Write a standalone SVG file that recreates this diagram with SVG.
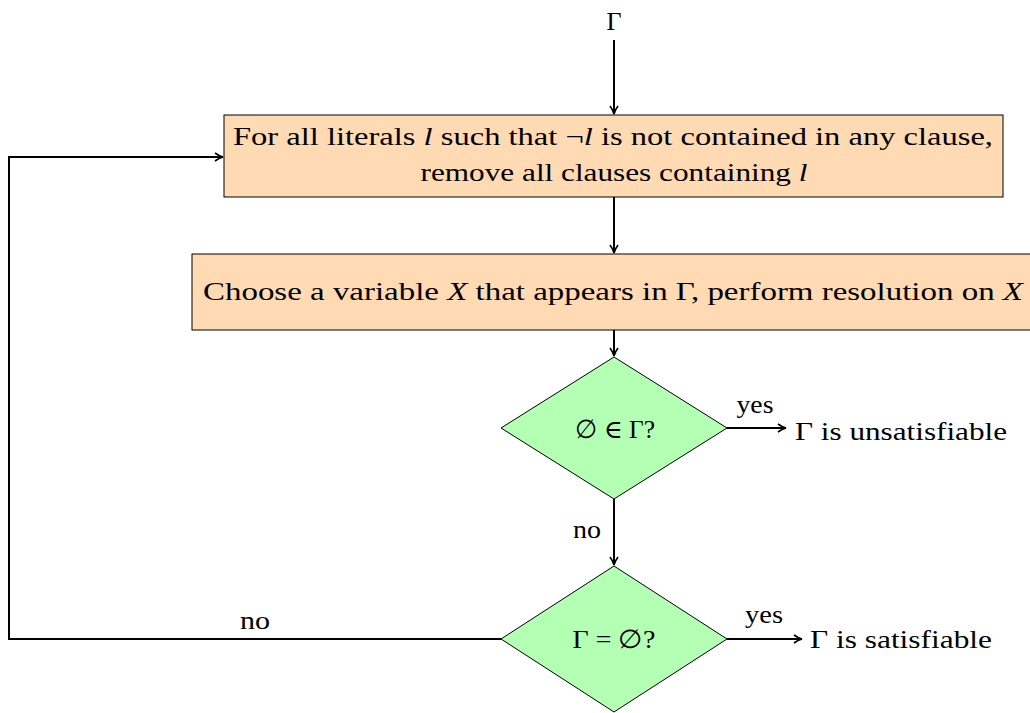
<svg xmlns="http://www.w3.org/2000/svg" width="1030" height="713" viewBox="0 0 1030 713">
<style>
text{font-family:"Liberation Serif","DejaVu Serif",serif;font-size:26px;fill:#000}
.c{text-anchor:middle}
.i{font-style:italic}
.box{fill:#FFDAB3;stroke:#000;stroke-width:1}
.dia{fill:#B3FFB3;stroke:#000;stroke-width:1}
.ln{fill:none;stroke:#000;stroke-width:2}
</style>
<defs>
<marker id="ah" markerWidth="10" markerHeight="10" refX="9" refY="5" orient="auto" markerUnits="userSpaceOnUse">
<path d="M1,1 Q5,4 9,5 Q5,6 1,9" fill="none" stroke="#000" stroke-width="1.6"/>
</marker>
</defs>
<rect width="1030" height="713" fill="#fff"/>
<g id="connectors">
<line class="ln" x1="614" y1="40" x2="614" y2="114" marker-end="url(#ah)"/>
<line class="ln" x1="614" y1="197" x2="614" y2="253" marker-end="url(#ah)"/>
<line class="ln" x1="614" y1="330" x2="614" y2="356" marker-end="url(#ah)"/>
<line class="ln" x1="727" y1="428" x2="786" y2="428" marker-end="url(#ah)"/>
<line class="ln" x1="614" y1="499" x2="614" y2="565" marker-end="url(#ah)"/>
<line class="ln" x1="727" y1="639" x2="802" y2="639" marker-end="url(#ah)"/>
<polyline class="ln" points="501,639 9,639 9,157 223,157" marker-end="url(#ah)"/>
<text x="755" y="413" class="c" textLength="37" lengthAdjust="spacingAndGlyphs">yes</text>
<text x="587" y="538" class="c" textLength="28" lengthAdjust="spacingAndGlyphs">no</text>
<text x="764" y="623" class="c" textLength="38" lengthAdjust="spacingAndGlyphs">yes</text>
<text x="255" y="629" class="c" textLength="30" lengthAdjust="spacingAndGlyphs">no</text>
</g>
<g id="start"><text x="614" y="30" class="c">Γ</text></g>
<g id="n1">
<rect class="box" x="224" y="115" width="779" height="82"/>
<text x="613" y="145" class="c" textLength="760" lengthAdjust="spacingAndGlyphs">For all literals <tspan class="i">l</tspan> such that ¬<tspan class="i">l</tspan> is not contained in any clause,</text>
<text x="614" y="181" class="c" textLength="387" lengthAdjust="spacingAndGlyphs">remove all clauses containing <tspan class="i">l</tspan></text>
</g>
<g id="n2">
<rect class="box" x="192" y="254" width="845" height="76"/>
<text x="613" y="300" class="c" textLength="820" lengthAdjust="spacingAndGlyphs">Choose a variable <tspan class="i">X</tspan> that appears in Γ, perform resolution on <tspan class="i">X</tspan></text>
</g>
<g id="d1">
<polygon class="dia" points="614,357 727,428 614,499 501,428"/>
<text x="615" y="438" class="c" textLength="80" lengthAdjust="spacingAndGlyphs">∅ ∈ Γ?</text>
</g>
<g id="d2">
<polygon class="dia" points="614,566 727,639 614,712 501,639"/>
<text x="614" y="648" class="c" textLength="83" lengthAdjust="spacingAndGlyphs">Γ = ∅?</text>
</g>
<g id="unsat"><text x="795" y="440" textLength="212" lengthAdjust="spacingAndGlyphs">Γ is unsatisfiable</text></g>
<g id="sat"><text x="810" y="648" textLength="182" lengthAdjust="spacingAndGlyphs">Γ is satisfiable</text></g>
</svg>
